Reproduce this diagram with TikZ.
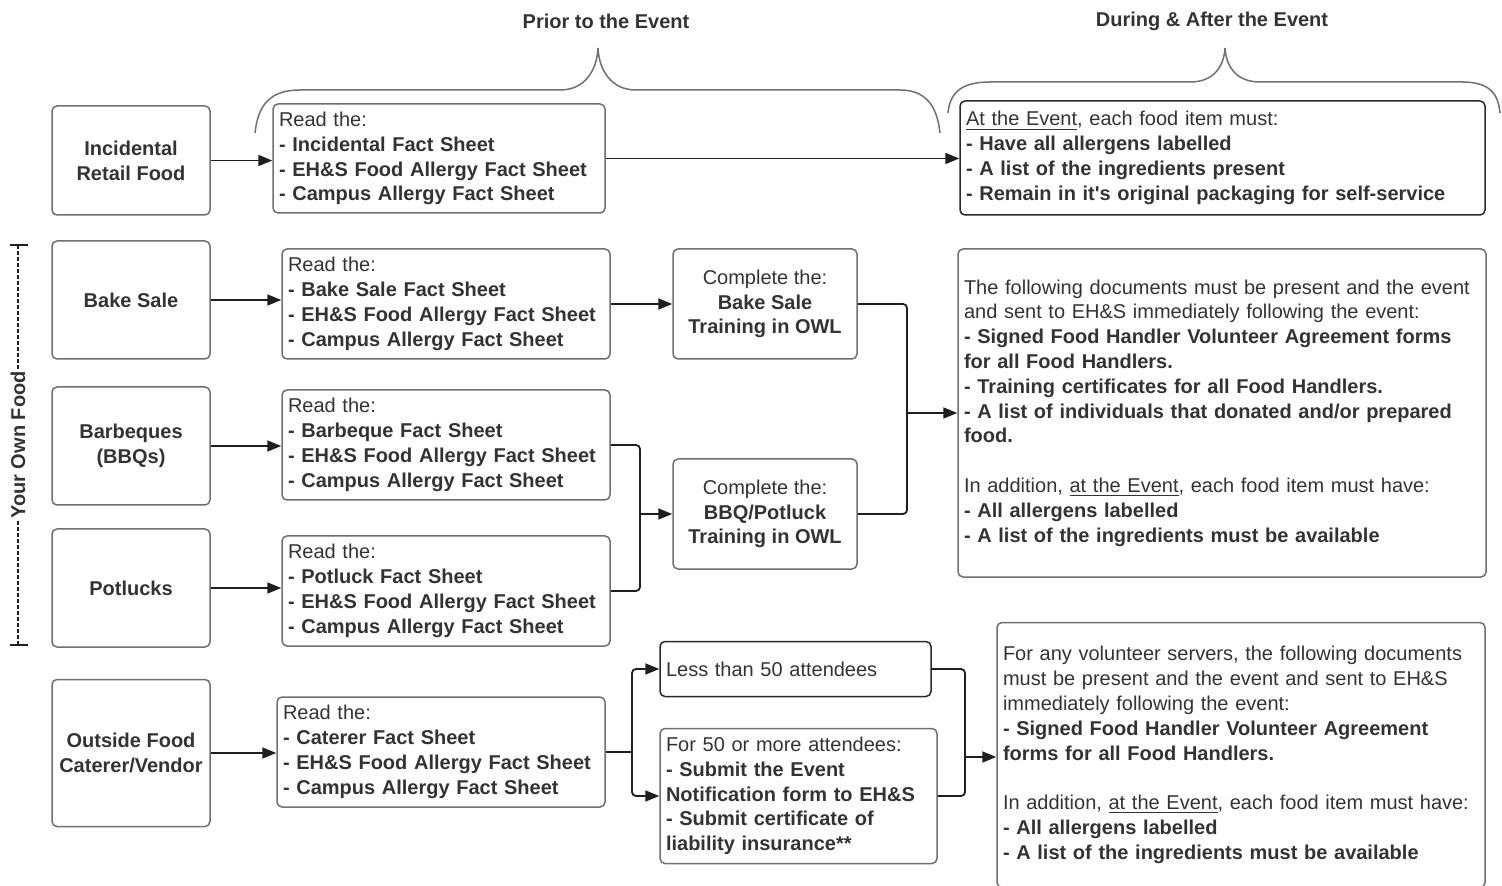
\documentclass[tikz,border=0pt]{standalone}
\usepackage{fontspec}
\setmainfont{Liberation Sans}
\usetikzlibrary{arrows.meta,calc}
\definecolor{txt}{HTML}{333333}
\definecolor{bord}{HTML}{707070}
\definecolor{darkb}{HTML}{2A2A2A}
\definecolor{conn}{HTML}{1E1E1E}
\begin{document}
\begin{tikzpicture}[x=0.5pt,y=-0.5pt,
  font=\fontsize{10pt}{12.4pt}\selectfont, text=txt,
  box/.style={draw=bord, line width=0.75pt, rounded corners=2.5pt, fill=white, inner xsep=3pt, inner ysep=0pt},
  darkbox/.style={box, draw=darkb},
  cbox/.style={box, align=center},
  bbox/.style={box, align=center, font=\fontsize{10pt}{12.4pt}\selectfont\bfseries},
  lbox/.style={box, align=left},
  arr/.style={draw=conn, line width=0.9pt, rounded corners=2pt, -{Triangle[length=7pt,width=5.5pt]}},
  ln/.style={draw=conn, line width=0.9pt, rounded corners=2pt},
  brace/.style={draw=bord, line width=0.75pt},
  hdr/.style={font=\fontsize{10pt}{12.4pt}\selectfont\bfseries}
]
\useasboundingbox (0,0) rectangle (1502,886);
\clip (0,0) rectangle (1502,886);

% headers
\node[hdr] (h1) at (606,21) {Prior to the Event};
\node[hdr] (h2) at (1212,21) {During \& After the Event};

% braces
\draw[brace] (255,133) .. controls (258,105) and (270,90) .. (300,90) -- (560,90)
  .. controls (585,90) and (597,70) .. (598,48) .. controls (599,70) and (611,90) .. (636,90)
  -- (900,90) .. controls (925,90) and (937,105) .. (940,133);
\draw[brace] (948,113) .. controls (950,92) and (962,82) .. (990,82) -- (1190,82)
  .. controls (1215,82) and (1224,65) .. (1225,48) .. controls (1226,65) and (1235,82) .. (1260,82)
  -- (1462,82) .. controls (1488,82) and (1498,92) .. (1500,113);

% left label
\draw[conn, line width=0.8pt, dash pattern=on 2pt off 1pt] (18,245) -- (18,645);
\draw[conn, line width=0.9pt] (10,245) -- (28,245);
\draw[conn, line width=0.9pt] (10,645) -- (28,645);
\node[rotate=90, hdr, fill=white, inner sep=0.5pt] (yof) at (18,445) {Your Own Food};

% row 1
\node[bbox, minimum width=79pt, minimum height=54.5pt] (inc) at (131,160.5) {Incidental\\Retail Food};
\node[lbox, text width=160pt, minimum height=54.5pt] (r1) at (439,158.5)
  {Read the:\\\textbf{- Incidental Fact Sheet}\\\textbf{- EH\&S Food Allergy Fact Sheet}\\\textbf{- Campus Allergy Fact Sheet}};
\node[darkbox, align=left, text width=256.5pt, minimum height=57pt] (ev) at (1222.5,158)
  {\underline{At the Event}, each food item must:\\\textbf{- Have all allergens labelled}\\\textbf{- A list of the ingredients present}\\\textbf{- Remain in it\textquotesingle s original packaging for self-service}};

% bake sale
\node[bbox, minimum width=79pt, minimum height=59pt] (bake) at (131,300) {Bake Sale};
\node[lbox, text width=158pt, minimum height=55pt] (r2) at (446,304)
  {Read the:\\\textbf{- Bake Sale Fact Sheet}\\\textbf{- EH\&S Food Allergy Fact Sheet}\\\textbf{- Campus Allergy Fact Sheet}};
\node[cbox, minimum width=92pt, minimum height=55pt] (cb) at (765,304)
  {Complete the:\\\textbf{Bake Sale}\\\textbf{Training in OWL}};

% bbq
\node[bbox, minimum width=79pt, minimum height=59pt] (bbq) at (131,446) {Barbeques\\(BBQs)};
\node[lbox, text width=158pt, minimum height=55pt] (r3) at (446,445)
  {Read the:\\\textbf{- Barbeque Fact Sheet}\\\textbf{- EH\&S Food Allergy Fact Sheet}\\\textbf{- Campus Allergy Fact Sheet}};
\node[cbox, minimum width=92pt, minimum height=55pt] (cq) at (765,514)
  {Complete the:\\\textbf{BBQ/Potluck}\\\textbf{Training in OWL}};

% potlucks
\node[bbox, minimum width=79pt, minimum height=59pt] (pot) at (131,588) {Potlucks};
\node[lbox, text width=158pt, minimum height=55pt] (r4) at (446,591)
  {Read the:\\\textbf{- Potluck Fact Sheet}\\\textbf{- EH\&S Food Allergy Fact Sheet}\\\textbf{- Campus Allergy Fact Sheet}};

% big box
\node[lbox, text width=258pt, minimum height=164pt] (big) at (1222,413)
  {The following documents must be present and the event\\
   and sent to EH\&S immediately following the event:\\
   \textbf{- Signed Food Handler Volunteer Agreement forms}\\
   \textbf{for all Food Handlers.}\\
   \textbf{- Training certificates for all Food Handlers.}\\
   \textbf{- A list of individuals that donated and/or prepared}\\
   \textbf{food.}\\[12.4pt]
   In addition, \underline{at the Event}, each food item must have:\\
   \textbf{- All allergens labelled}\\
   \textbf{- A list of the ingredients must be available}};

% outside
\node[bbox, minimum width=79pt, minimum height=73.5pt] (out) at (131,753) {Outside Food\\Caterer/Vendor};
\node[lbox, text width=158pt, minimum height=55pt] (r5) at (441,752)
  {Read the:\\\textbf{- Caterer Fact Sheet}\\\textbf{- EH\&S Food Allergy Fact Sheet}\\\textbf{- Campus Allergy Fact Sheet}};
\node[darkbox, align=left, text width=129.5pt, minimum height=27.5pt] (less) at (795.5,669)
  {Less than 50 attendees};
\node[lbox, text width=132.5pt, minimum height=67.5pt] (f50) at (798.5,796)
  {For 50 or more attendees:\\\textbf{- Submit the Event}\\\textbf{Notification form to EH\&S}\\\textbf{- Submit certificate of}\\\textbf{liability insurance**}};
\node[lbox, text width=238pt, minimum height=132.5pt] (br) at (1241,755)
  {For any volunteer servers, the following documents\\
   must be present and the event and sent to EH\&S\\
   immediately following the event:\\
   \textbf{- Signed Food Handler Volunteer Agreement}\\
   \textbf{forms for all Food Handlers.}\\[12.4pt]
   In addition, \underline{at the Event}, each food item must have:\\
   \textbf{- All allergens labelled}\\
   \textbf{- A list of the ingredients must be available}};

% connectors
\draw[arr] (inc.east) -- (inc.east -| r1.west);
\draw[arr] (r1.east) -- (r1.east -| ev.west);
\draw[arr] (bake.east) -- (bake.east -| r2.west);
\draw[arr] (r2.east) -- (cb.west);
\draw[arr] (bbq.east) -- (bbq.east -| r3.west);
\draw[arr] (pot.east) -- (pot.east -| r4.west);

\coordinate (j1) at (640,514);
\draw[ln] (r3.east) -| (j1);
\draw[ln] (r4.east) -| (j1);
\draw[arr] (j1) -- (cq.west);

\coordinate (j2) at (907,413);
\draw[ln] (cb.east) -| (j2);
\draw[ln] (cq.east) -| (j2);
\draw[arr] (j2) -- (j2 -| big.west);

\draw[arr] (out.east) -- (out.east -| r5.west);
\coordinate (j3) at (632,752);
\draw[ln] (r5.east) -- (j3);
\draw[arr] (j3) |- (less.west);
\draw[arr] (j3) |- (f50.west);

\coordinate (j4) at (965,757);
\draw[ln] (less.east) -| (j4);
\draw[ln] (f50.east) -| (j4);
\draw[arr] (j4) -- (j4 -| br.west);
\end{tikzpicture}
\end{document}
